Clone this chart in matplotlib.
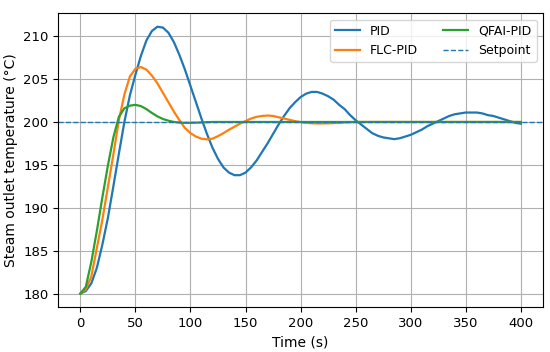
#!/usr/bin/env python3
"""Step response of steam outlet temperature for three controllers."""

import numpy as np
import matplotlib
matplotlib.use("Agg")
import matplotlib.pyplot as plt

# time axis, one sample every 5 s
time_s = list(range(0, 405, 5))

pid = [
    180.0, 180.3, 181.2, 183.0, 185.7, 188.8, 192.5, 196.3, 200.0, 203.1,
    205.5, 207.7, 209.5, 210.6, 211.1, 211.0, 210.4, 209.3, 207.8, 206.1,
    204.2, 202.3, 200.4, 198.6, 197.0, 195.7, 194.7, 194.1, 193.8, 193.8,
    194.1, 194.7, 195.5, 196.5, 197.5, 198.6, 199.7, 200.7, 201.6, 202.3,
    202.9, 203.3, 203.5, 203.5, 203.3, 203.0, 202.6, 202.0, 201.5, 200.8,
    200.2, 199.7, 199.2, 198.7, 198.4, 198.2, 198.1, 198.0, 198.1, 198.3,
    198.5, 198.8, 199.1, 199.5, 199.8, 200.1, 200.4, 200.7, 200.9, 201.0,
    201.1, 201.1, 201.1, 201.0, 200.8, 200.7, 200.5, 200.3, 200.1, 199.9,
    199.8,
]

flc_pid = [
    180.0, 180.5, 182.0, 185.3, 188.6, 192.4, 196.2, 200.2, 203.2, 205.3,
    206.2, 206.4, 206.1, 205.4, 204.5, 203.4, 202.3, 201.2, 200.2, 199.3,
    198.7, 198.3, 198.05, 197.97, 198.05, 198.35, 198.7, 199.1, 199.45, 199.8,
    200.1, 200.4, 200.6, 200.7, 200.75, 200.7, 200.55, 200.4, 200.25, 200.1,
    199.98, 199.9, 199.85, 199.83, 199.83, 199.84, 199.87, 199.9, 199.94, 199.97,
    200.0, 200.0, 200.0, 200.0, 200.0, 200.0, 200.0, 200.0, 200.0, 200.0,
    200.0, 200.0, 200.0, 200.0, 200.0, 200.0, 200.0, 200.0, 200.0, 200.0,
    200.0, 200.0, 200.0, 200.0, 200.0, 200.0, 200.0, 200.0, 200.0, 200.0,
    200.0,
]

qfai_pid = [
    180.0, 180.8, 183.7, 187.3, 191.2, 194.9, 198.2, 200.6, 201.6, 201.9,
    202.0, 201.85, 201.5, 201.05, 200.65, 200.35, 200.15, 200.0, 199.93, 199.9,
    199.9, 199.92, 199.95, 199.98, 200.0, 200.0, 200.0, 200.0, 200.0, 200.0,
    200.0, 200.0, 200.0, 200.0, 200.0, 200.0, 200.0, 200.0, 200.0, 200.0,
    200.0, 200.0, 200.0, 200.0, 200.0, 200.0, 200.0, 200.0, 200.0, 200.0,
    200.0, 200.0, 200.0, 200.0, 200.0, 200.0, 200.0, 200.0, 200.0, 200.0,
    200.0, 200.0, 200.0, 200.0, 200.0, 200.0, 200.0, 200.0, 200.0, 200.0,
    200.0, 200.0, 200.0, 200.0, 200.0, 200.0, 200.0, 200.0, 200.0, 200.0,
    200.0,
]

setpoint = 200.0


def main():
    fig, ax = plt.subplots(figsize=(5.5, 3.52), dpi=100)
    fig.subplots_adjust(left=0.106, right=0.987, top=0.962, bottom=0.128)

    ax.plot(time_s, pid, color='tab:blue', linewidth=1.6, label='PID')
    ax.plot(time_s, flc_pid, color='tab:orange', linewidth=1.6, label='FLC-PID')
    ax.plot(time_s, qfai_pid, color='tab:green', linewidth=1.6, label='QFAI-PID')
    ax.axhline(setpoint, color='tab:blue', linestyle='--', linewidth=1.0,
               label='Setpoint')

    ax.set_xlabel('Time (s)', fontsize=10)
    ax.set_ylabel('Steam outlet temperature (°C)', fontsize=10)
    ax.tick_params(labelsize=9.5)
    ax.grid(True)
    ax.legend(loc='upper right', ncol=2, fontsize=9)

    fig.savefig('out.png', dpi=100)


if __name__ == "__main__":
    main()
